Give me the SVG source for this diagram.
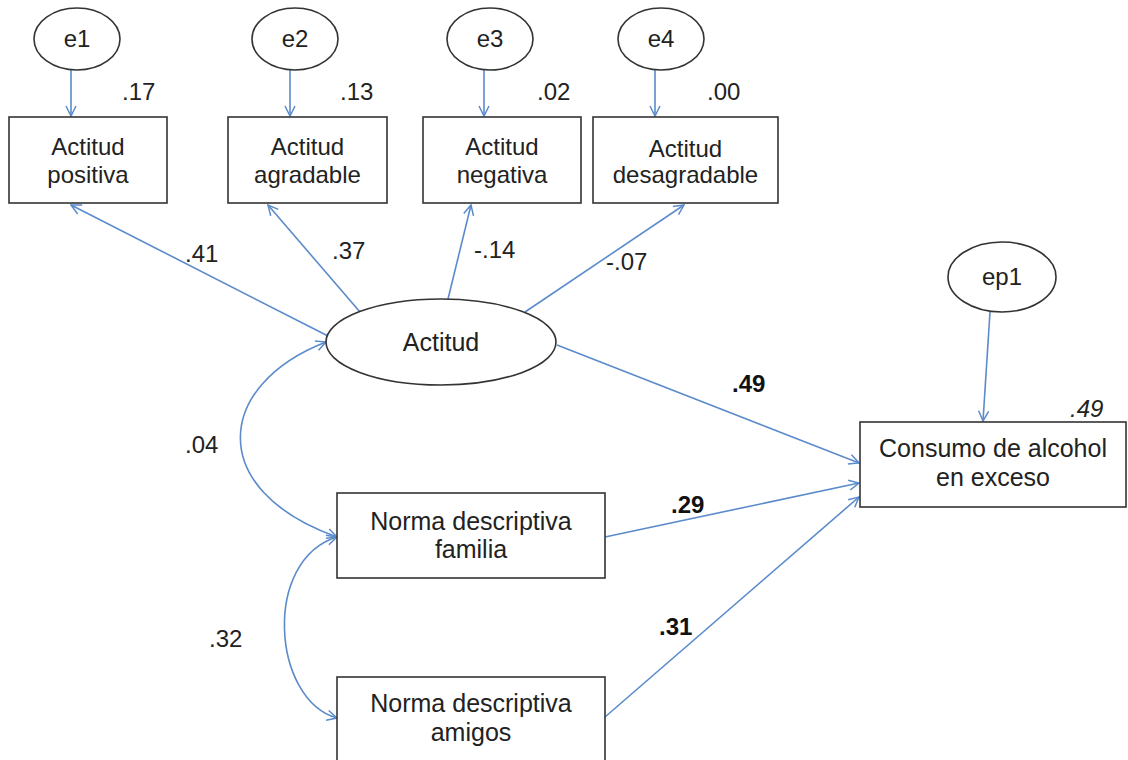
<svg xmlns="http://www.w3.org/2000/svg" width="1128" height="760" viewBox="0 0 1128 760">
<defs>
<marker id="arr" viewBox="0 0 12 12" refX="11" refY="6" markerWidth="12" markerHeight="12" markerUnits="userSpaceOnUse" orient="auto-start-reverse">
<path d="M1,1 L11,6 L1,11" fill="none" stroke="#5b8bcb" stroke-width="1.5"/>
</marker>
<style>
.nd{fill:#fff;stroke:#333;stroke-width:1.6}
.t{font-family:"Liberation Sans",Arial,sans-serif;font-size:24px;fill:#222;text-anchor:middle}
.t2{font-family:"Liberation Sans",Arial,sans-serif;font-size:25px;fill:#222;text-anchor:middle}
.n{font-family:"Liberation Sans",Arial,sans-serif;font-size:24px;fill:#222}
.b{font-family:"Liberation Sans",Arial,sans-serif;font-size:24px;fill:#111;font-weight:bold}
.c{fill:none;stroke:#5b8bcb;stroke-width:1.6;marker-end:url(#arr)}
.cc{fill:none;stroke:#5b8bcb;stroke-width:1.6;marker-start:url(#arr);marker-end:url(#arr)}
</style>
</defs>
<rect width="1128" height="760" fill="#fff"/>
<g id="connectors">
<line class="c" x1="71" y1="70" x2="71" y2="116"/>
<line class="c" x1="290" y1="70" x2="290" y2="116"/>
<line class="c" x1="484" y1="70" x2="484" y2="116"/>
<line class="c" x1="655" y1="70" x2="655" y2="116"/>
<line class="c" x1="990" y1="312" x2="983" y2="421"/>
<line class="c" x1="328" y1="336" x2="71" y2="205"/>
<line class="c" x1="360" y1="312" x2="268" y2="205"/>
<line class="c" x1="448" y1="299" x2="471" y2="205"/>
<line class="c" x1="525" y1="312" x2="684" y2="205"/>
<line class="c" x1="557" y1="345" x2="859" y2="463"/>
<line class="c" x1="605" y1="537" x2="859" y2="483"/>
<line class="c" x1="605" y1="717" x2="859" y2="497"/>
<path class="cc" d="M326,342 C215,385 205,490 337,537"/>
<path class="cc" d="M337,537 C262,560 272,700 337,718"/>
</g>
<g id="labels">
<text class="n" x="122" y="100">.17</text>
<text class="n" x="340" y="100">.13</text>
<text class="n" x="537" y="100">.02</text>
<text class="n" x="707" y="100">.00</text>
<text class="n" x="185" y="262">.41</text>
<text class="n" x="332" y="259">.37</text>
<text class="n" x="474" y="258">-.14</text>
<text class="n" x="606" y="270">-.07</text>
<text class="n" x="185" y="453">.04</text>
<text class="n" x="209" y="647">.32</text>
<text class="b" x="732" y="392">.49</text>
<text class="b" x="671" y="513">.29</text>
<text class="b" x="659" y="635">.31</text>
<text class="n" x="1070" y="417" font-style="italic">.49</text>
</g>
<g id="e1"><ellipse class="nd" cx="77" cy="39" rx="43" ry="31"/><text class="t" x="77" y="47">e1</text></g>
<g id="e2"><ellipse class="nd" cx="295" cy="39" rx="43" ry="31"/><text class="t" x="295" y="47">e2</text></g>
<g id="e3"><ellipse class="nd" cx="490" cy="39" rx="43" ry="31"/><text class="t" x="490" y="47">e3</text></g>
<g id="e4"><ellipse class="nd" cx="661" cy="39" rx="43" ry="31"/><text class="t" x="661" y="47">e4</text></g>
<g id="ep1"><ellipse class="nd" cx="1002" cy="277" rx="54" ry="35"/><text class="t" x="1002" y="285">ep1</text></g>
<g id="actitud-positiva"><rect class="nd" x="9" y="117" width="158" height="86"/><text class="t" x="88" y="155">Actitud</text><text class="t" x="88" y="183">positiva</text></g>
<g id="actitud-agradable"><rect class="nd" x="228" y="117" width="159" height="86"/><text class="t" x="307.5" y="155">Actitud</text><text class="t" x="307.5" y="183">agradable</text></g>
<g id="actitud-negativa"><rect class="nd" x="423" y="117" width="158" height="86"/><text class="t" x="502" y="155">Actitud</text><text class="t" x="502" y="183">negativa</text></g>
<g id="actitud-desagradable"><rect class="nd" x="593" y="117" width="185" height="86"/><text class="t" x="685.5" y="157" font-size="23">Actitud</text><text class="t" x="685.5" y="183" font-size="23">desagradable</text></g>
<g id="actitud"><ellipse class="nd" cx="441" cy="342" rx="115" ry="43"/><text class="t2" x="441" y="351">Actitud</text></g>
<g id="consumo"><rect class="nd" x="860" y="422" width="266" height="85"/><text class="t2" x="993" y="457">Consumo de alcohol</text><text class="t2" x="993" y="486">en exceso</text></g>
<g id="norma-familia"><rect class="nd" x="337" y="493" width="268" height="85"/><text class="t2" x="471" y="530">Norma descriptiva</text><text class="t2" x="471" y="558">familia</text></g>
<g id="norma-amigos"><rect class="nd" x="337" y="677" width="268" height="88"/><text class="t2" x="471" y="712">Norma descriptiva</text><text class="t2" x="471" y="741">amigos</text></g>
</svg>
